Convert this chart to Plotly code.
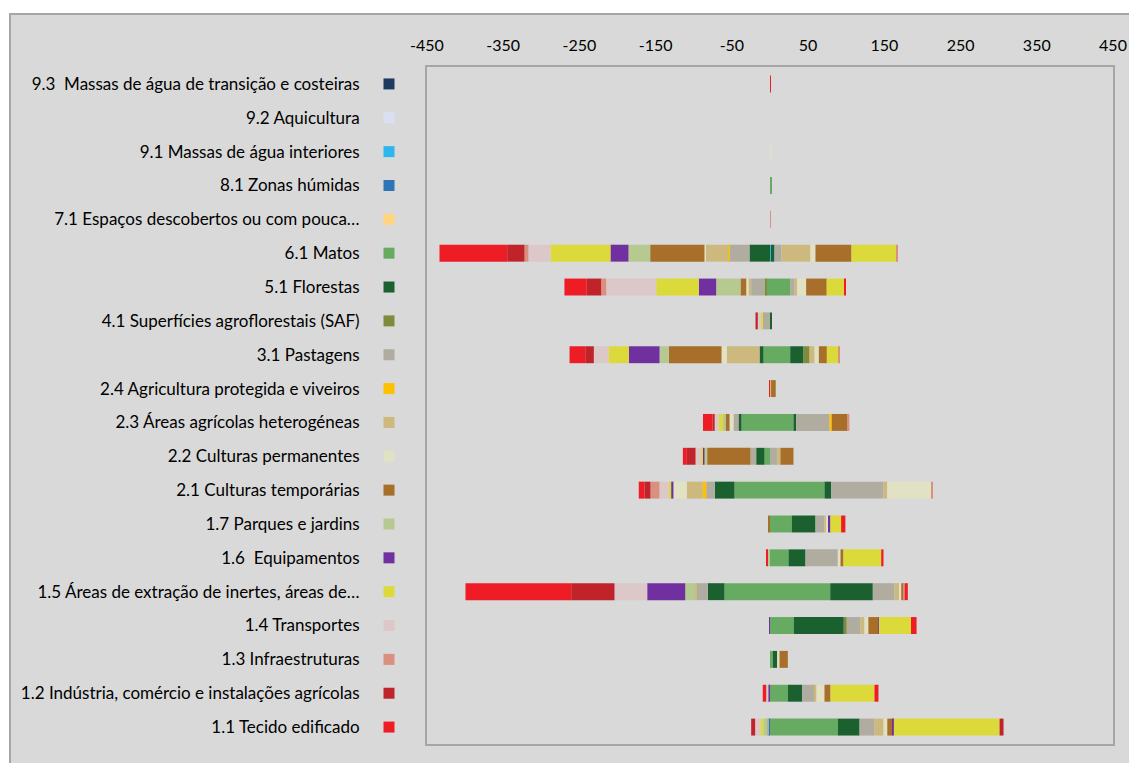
import plotly.graph_objects as go

# ---- categories (bottom to top) ----
codes = ["1.1", "1.2", "1.3", "1.4", "1.5", "1.6", "1.7", "2.1", "2.2", "2.3",
         "2.4", "3.1", "4.1", "5.1", "6.1", "7.1", "8.1", "9.1", "9.2", "9.3"]
labels = [
    "1.1 Tecido edificado",
    "1.2 Indústria, comércio e instalações agrícolas",
    "1.3 Infraestruturas",
    "1.4 Transportes",
    "1.5 Áreas de extração de inertes, áreas de…",
    "1.6\u00a0 Equipamentos",
    "1.7 Parques e jardins",
    "2.1 Culturas temporárias",
    "2.2 Culturas permanentes",
    "2.3 Áreas agrícolas heterogéneas",
    "2.4 Agricultura protegida e viveiros",
    "3.1 Pastagens",
    "4.1 Superfícies agroflorestais (SAF)",
    "5.1 Florestas",
    "6.1 Matos",
    "7.1 Espaços descobertos ou com pouca…",
    "8.1 Zonas húmidas",
    "9.1 Massas de água interiores",
    "9.2 Aquicultura",
    "9.3\u00a0 Massas de água de transição e costeiras",
]
colors = ["#EE1C25", "#C0242A", "#D9907F", "#DCC8C8", "#DCDA3A", "#7030A0", "#B6C991",
          "#A86F2A", "#E1E1C3", "#CDB97D", "#FFC000", "#B0ACA0", "#7F8B3A", "#1B6130",
          "#67AB63", "#FFD580", "#2E75B6", "#2DB7EE", "#DAE0F2", "#1F3A60"]

# ---- losses (shown to the left) and gains (to the right), per row, by class ----
loss_1_1 = {"1.2": 5.2, "1.4": 7.0, "1.5": 3.9, "1.7": 4.9, "3.1": 2.1, "8.1": 1.6}
gain_1_1 = {"1.2": 5.2, "1.5": 138.7, "1.6": 1.3, "2.1": 7.3, "2.2": 4.9, "2.3": 11.8,
            "3.1": 19.7, "5.1": 28.5, "6.1": 89.0}
loss_1_2 = {"1.1": 4.5, "1.4": 3.0, "1.6": 2.0}
gain_1_2 = {"1.1": 5.2, "1.5": 57.7, "2.1": 7.9, "2.2": 10.5, "2.3": 2.6, "3.1": 16.1,
            "5.1": 18.9, "6.1": 23.4}
loss_1_3 = {}
gain_1_3 = {"2.1": 10.9, "2.2": 3.0, "5.1": 5.8, "6.1": 3.7}
loss_1_4 = {"1.6": 1.0}
gain_1_4 = {"1.1": 7.3, "1.5": 42.2, "1.6": 0.6, "2.1": 13.1, "2.2": 5.2, "2.3": 5.2,
            "3.1": 18.0, "4.1": 3.9, "5.1": 65.6, "6.1": 31.2}
loss_1_5 = {"1.1": 138.7, "1.2": 56.8, "1.4": 42.9, "1.6": 49.9, "1.7": 13.5, "2.3": 1.3,
            "3.1": 14.8, "5.1": 21.9, "6.1": 59.7}
gain_1_5 = {"1.1": 3.9, "1.3": 1.3, "2.1": 3.4, "2.2": 2.2, "2.3": 6.6, "3.1": 28.5,
            "5.1": 55.9, "6.1": 79.0}
loss_1_6 = {"1.1": 1.3, "1.7": 3.7}
gain_1_6 = {"1.1": 3.0, "1.5": 49.5, "2.1": 3.9, "2.2": 3.5, "3.1": 42.4, "5.1": 22.3,
            "6.1": 24.3}
loss_1_7 = {"2.1": 1.5}
gain_1_7 = {"1.1": 5.6, "1.5": 14.0, "1.6": 2.2, "2.2": 2.6, "2.3": 3.0, "3.1": 11.8,
            "5.1": 31.1, "6.1": 28.6}
loss_2_1 = {"1.1": 7.5, "1.2": 7.9, "1.3": 11.8, "1.4": 12.2, "1.5": 3.1, "1.6": 3.0,
            "2.2": 17.5, "2.3": 21.0, "2.4": 4.5, "3.1": 11.3, "5.1": 25.8, "6.1": 46.6}
gain_2_1 = {"1.3": 1.3, "2.2": 57.7, "2.3": 4.9, "3.1": 68.6, "5.1": 8.8, "6.1": 71.5}
loss_2_2 = {"1.1": 5.2, "1.2": 11.4, "1.4": 7.5, "1.5": 1.3, "1.6": 3.0, "1.7": 3.5,
            "2.1": 56.8, "3.1": 7.5, "5.1": 10.9, "6.1": 7.2}
gain_2_2 = {"2.1": 17.1, "2.3": 4.3, "3.1": 9.4}
loss_2_3 = {"1.1": 12.3, "1.2": 3.0, "1.4": 5.2, "1.5": 5.6, "1.7": 3.5, "2.1": 5.2,
            "2.2": 5.2, "3.1": 6.6, "5.1": 3.9, "6.1": 37.4}
gain_2_3 = {"1.3": 2.2, "2.1": 21.0, "2.4": 3.0, "3.1": 43.7, "5.1": 3.5, "6.1": 30.8}
loss_2_4 = {"1.1": 1.0}
gain_2_4 = {"2.1": 6.0, "2.3": 1.5}
loss_3_1 = {"1.1": 20.6, "1.2": 11.3, "1.4": 19.3, "1.5": 26.6, "1.6": 40.3, "1.7": 12.2,
            "2.1": 69.1, "2.2": 7.0, "2.3": 42.9, "5.1": 5.2, "6.1": 8.5}
gain_3_1 = {"1.3": 0.9, "1.5": 15.7, "2.1": 10.5, "2.2": 5.6, "2.3": 6.6, "4.1": 7.9,
            "5.1": 17.5, "6.1": 26.5}
loss_4_1 = {"1.2": 3.0, "1.4": 4.5, "1.5": 2.1, "3.1": 9.4}
gain_4_1 = {"5.1": 2.4}
loss_5_1 = {"1.1": 29.3, "1.2": 18.9, "1.3": 6.6, "1.4": 65.6, "1.5": 55.9, "1.6": 22.8,
            "1.7": 31.9, "2.1": 7.5, "2.2": 3.0, "2.3": 3.5, "3.1": 17.5, "4.1": 2.2,
            "6.1": 5.0}
gain_5_1 = {"1.1": 1.3, "1.5": 23.2, "2.1": 27.0, "2.2": 11.8, "2.3": 3.5, "3.1": 5.2,
            "6.1": 26.9}
loss_6_1 = {"1.1": 88.8, "1.2": 22.7, "1.3": 5.2, "1.4": 28.9, "1.5": 78.7, "1.6": 23.6,
            "1.7": 28.5, "2.1": 71.2, "2.2": 1.3, "2.3": 30.6, "2.4": 1.0, "3.1": 26.2,
            "5.1": 26.9}
gain_6_1 = {"1.3": 1.3, "1.5": 59.0, "2.1": 47.2, "2.2": 6.6, "2.3": 38.0, "3.1": 9.2,
            "5.1": 4.6, "9.1": 1.3}
loss_7_1 = {}
gain_7_1 = {"1.3": 0.8}
loss_8_1 = {}
gain_8_1 = {"6.1": 1.5}
loss_9_1 = {}
gain_9_1 = {"2.2": 0.6}
loss_9_2 = {}
gain_9_2 = {}
loss_9_3 = {}
gain_9_3 = {"1.1": 0.8}

losses = [loss_1_1, loss_1_2, loss_1_3, loss_1_4, loss_1_5, loss_1_6, loss_1_7,
          loss_2_1, loss_2_2, loss_2_3, loss_2_4, loss_3_1, loss_4_1, loss_5_1,
          loss_6_1, loss_7_1, loss_8_1, loss_9_1, loss_9_2, loss_9_3]
gains = [gain_1_1, gain_1_2, gain_1_3, gain_1_4, gain_1_5, gain_1_6, gain_1_7,
         gain_2_1, gain_2_2, gain_2_3, gain_2_4, gain_3_1, gain_4_1, gain_5_1,
         gain_6_1, gain_7_1, gain_8_1, gain_9_1, gain_9_2, gain_9_3]

x_ticks = [-450, -350, -250, -150, -50, 50, 150, 250, 350, 450]
x_tick_text = ["-450", "-350", "-250", "-150", "-50", "50", "150", "250", "350", "450"]

FONT = "Lato"
W, H = 1129, 763
ML, MT = 10, 67
PLOT_L, PLOT_R, PLOT_B = 427, 1113, 744
MR, MB = W - PLOT_R, H - PLOT_B
pw = W - ML - MR
ph = H - MT - MB

fig = go.Figure()

# stacked from zero outwards: highest class code nearest zero
for ci in reversed(range(len(codes))):
    c = codes[ci]
    lv = [-row.get(c, 0) for row in losses]
    gv = [row.get(c, 0) for row in gains]
    if any(lv):
        fig.add_trace(go.Bar(x=lv, y=labels, orientation="h", marker_color=colors[ci],
                             marker_line_width=0, name=c, showlegend=False))
    if any(gv):
        fig.add_trace(go.Bar(x=gv, y=labels, orientation="h", marker_color=colors[ci],
                             marker_line_width=0, name=c, showlegend=False))

# colour keys next to category labels
fig.add_trace(go.Scatter(x=[0.5] * len(labels), y=labels, mode="markers", xaxis="x2",
                         marker=dict(symbol="square", size=11, color=colors, line_width=0),
                         showlegend=False, hoverinfo="skip"))

fig.update_layout(
    width=W, height=H,
    margin=dict(l=ML, r=MR, t=MT, b=MB, autoexpand=False),
    paper_bgcolor="white",
    plot_bgcolor="#D9D9D9",
    barmode="relative",
    bargap=0.5,
    font=dict(family=FONT, size=16, color="#000000"),
    xaxis=dict(domain=[(PLOT_L - ML) / pw, 1], range=[-450, 450], side="top",
               tickvals=x_ticks, ticktext=x_tick_text, ticks="", showgrid=False,
               zeroline=False, automargin=False,
               showline=True, mirror=True, linecolor="#A6A6A6", linewidth=2,
               ticklabelstandoff=8, tickfont=dict(size=16, color="#000000")),
    xaxis2=dict(domain=[(383 - ML) / pw, (395 - ML) / pw], range=[0, 1],
                visible=False, anchor="y", fixedrange=True, automargin=False),
    yaxis=dict(type="category", categoryorder="array", categoryarray=labels,
               domain=[0, 1], range=[-0.5, len(labels) - 0.5], autorange=False,
               ticks="", showgrid=False, zeroline=False, showline=True, mirror=True,
               automargin=False,
               linecolor="#A6A6A6", linewidth=2, ticklabelstandoff=62,
               tickfont=dict(size=17, color="#000000")),
    shapes=[dict(type="rect", xref="paper", yref="paper", layer="below",
                 x0=0, x1=(W - ML + 5) / pw, y0=-(MB + 5) / ph, y1=(H - MB - 14) / ph,
                 fillcolor="#D9D9D9", line=dict(color="#A6A6A6", width=2))],
    hovermode=False,
)

fig.write_html(
    "out.html",
    config={"displayModeBar": False},
    post_script="document.body.style.margin='0';document.body.style.overflow='hidden';",
)
